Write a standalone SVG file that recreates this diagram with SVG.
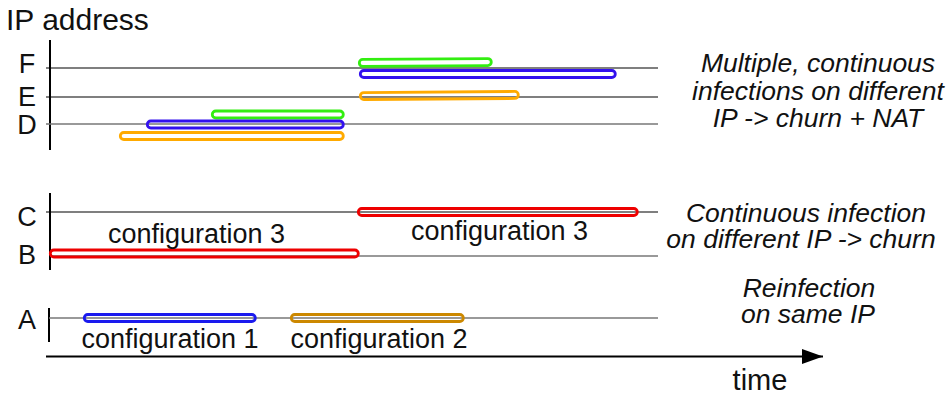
<svg xmlns="http://www.w3.org/2000/svg" width="946" height="397" viewBox="0 0 946 397">
<style>
text{font-family:"Liberation Sans",Arial,sans-serif;fill:#111}
.lbl{font-size:27px;text-anchor:middle}
.cfg{font-size:27px;text-anchor:middle}
.note{font-size:26.5px;font-style:italic;text-anchor:middle}
.ax{stroke:#000;stroke-width:2;fill:none}
.ln{stroke:#000;stroke-width:1.2;fill:none}
.lg{stroke:#777;stroke-width:1.5;fill:none}
.pill{fill:none;stroke-width:2.8}
.g{stroke:#33ee11}.b{stroke:#3311ee}.o{stroke:#ffaa00}.r{stroke:#ee0000}.y{stroke:#cc8800}.b1{stroke:#1a1aee}
</style>
<defs>
<marker id="arr" markerWidth="22" markerHeight="16" refX="21" refY="7.5" orient="auto" markerUnits="userSpaceOnUse">
<polygon points="0,0 21,7.5 0,15" fill="#000"/>
</marker>
</defs>
<g id="title"><text x="6" y="30" style="font-size:30px">IP address</text></g>
<g id="axes">
<line class="ax" x1="50" y1="40" x2="50" y2="150"/>
<line class="ax" x1="50" y1="193" x2="50" y2="270"/>
<line class="ax" x1="49" y1="308" x2="49" y2="342"/>
<line x1="46" y1="356.5" x2="823" y2="356.5" stroke="#000" stroke-width="2" marker-end="url(#arr)"/>
<text x="760" y="390" style="font-size:29px;text-anchor:middle">time</text>
</g>
<g id="lines">
<line class="ln" x1="46" y1="68" x2="658" y2="68"/>
<line class="ln" x1="46" y1="97" x2="658" y2="97"/>
<line class="lg" x1="46" y1="124" x2="658" y2="124"/>
<line class="ln" x1="46" y1="212" x2="658" y2="212"/>
<line class="lg" x1="50" y1="256" x2="658" y2="256"/>
<line class="lg" x1="49" y1="318" x2="658" y2="318"/>
</g>
<g id="labels">
<text class="lbl" x="27" y="73">F</text>
<text class="lbl" x="27" y="106">E</text>
<text class="lbl" x="27" y="134">D</text>
<text class="lbl" x="27" y="226">C</text>
<text class="lbl" x="27" y="264">B</text>
<text class="lbl" x="27" y="329">A</text>
</g>
<g id="infections-top">
<rect class="pill g" x="212.3" y="111" width="131" height="7" rx="3.5"/>
<rect class="pill b" x="147.3" y="121" width="196" height="7" rx="3.5"/>
<rect class="pill o" x="120.3" y="132.5" width="223" height="7" rx="3.5"/>
<rect class="pill g" x="359.3" y="59" width="132" height="7" rx="3.5" transform="rotate(-0.4 425 62.5)"/>
<rect class="pill b" x="360.3" y="70.5" width="255" height="7" rx="3.5"/>
<rect class="pill o" x="360.3" y="92" width="158" height="7" rx="3.5" transform="rotate(-0.4 439 95.5)"/>
</g>
<g id="infections-middle">
<rect class="pill r" x="358.3" y="208.5" width="279" height="7" rx="3.5"/>
<rect class="pill r" x="50.3" y="250" width="308" height="7" rx="3.5"/>
<text class="cfg" x="196.5" y="243">configuration 3</text>
<text class="cfg" x="499.5" y="240">configuration 3</text>
</g>
<g id="infections-bottom">
<rect class="pill b1" x="84.3" y="314.5" width="171" height="7" rx="3.5"/>
<rect class="pill y" x="291.3" y="314.5" width="172" height="7" rx="3.5"/>
<text class="cfg" x="170" y="348">configuration 1</text>
<text class="cfg" x="379" y="348">configuration 2</text>
</g>
<g id="notes">
<text class="note" x="818" y="72">Multiple, continuous</text>
<text class="note" x="818" y="100">infections on different</text>
<text class="note" x="818" y="127">IP -&gt; churn + NAT</text>
<text class="note" x="806" y="222">Continuous infection</text>
<text class="note" x="801" y="248">on different IP -&gt; churn</text>
<text class="note" x="809" y="297">Reinfection</text>
<text class="note" x="808" y="323">on same IP</text>
</g>
</svg>
